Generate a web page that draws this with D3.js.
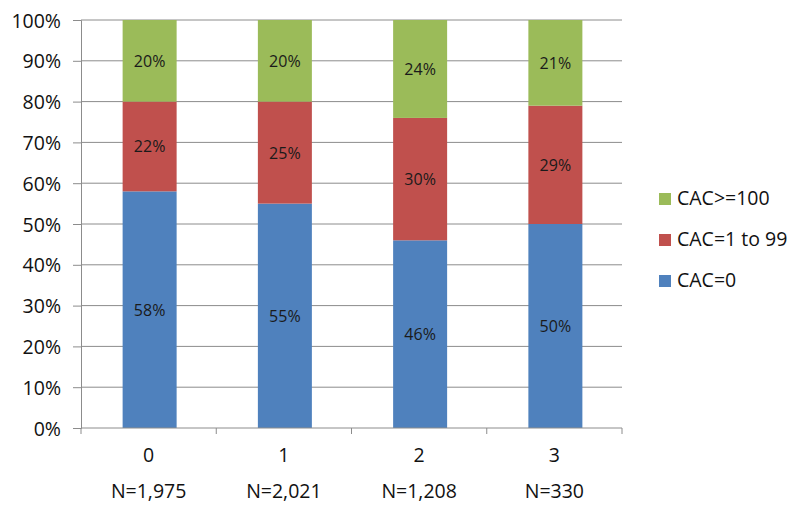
<!DOCTYPE html>
<html><head><meta charset="utf-8">
<script src="https://cdn.jsdelivr.net/npm/d3@7"></script>
<style>body{margin:0;background:#fff}text{font-family:"Open Sans",sans-serif}</style>
</head><body><svg id="c" width="800" height="513"></svg>
<script>
const categories = ["0","1","2","3"];
const nLabels = ["N=1,975","N=2,021","N=1,208","N=330"];
const seriesNames = ["CAC=0","CAC=1 to 99","CAC>=100"];
const cac0 = [58,55,46,50];
const cac1to99 = [22,25,30,29];
const cac100 = [20,20,24,21];
const colors = ["#4F81BD","#C0504D","#9BBB59"];
const yTicks = [0,10,20,30,40,50,60,70,80,90,100];

const svg = d3.select("#c");
const L=81,R=622,T=20,B=428;
const xo = d3.scaleBand().domain(categories).range([L,R]);
const y = d3.scaleLinear().domain([0,100]).range([B,T]);
const FS = 19.5;

// gridlines
svg.append("g").selectAll("line").data(yTicks.filter(d=>d>0)).join("line")
  .attr("x1",L).attr("x2",R).attr("y1",d=>y(d)).attr("y2",d=>y(d))
  .attr("stroke","#8c8c8c").attr("stroke-width",1);

const rows = categories.map((c,i)=>({cat:c, v:[cac0[i],cac1to99[i],cac100[i]]}));
const stack = d3.stack().keys([0,1,2]).value((d,k)=>d.v[k]);
const stacked = stack(rows);
const bw = 54;
stacked.forEach((s,si)=>{
  const g = svg.append("g");
  g.selectAll("rect").data(s).join("rect")
    .attr("x",d=>xo(d.data.cat)+xo.bandwidth()/2-bw/2+1).attr("width",bw)
    .attr("y",d=>y(d[1])).attr("height",d=>y(d[0])-y(d[1]))
    .attr("fill",colors[si]);
  g.selectAll("text").data(s).join("text")
    .attr("x",d=>xo(d.data.cat)+xo.bandwidth()/2+1)
    .attr("y",d=>(y(d[0])+y(d[1]))/2+6)
    .attr("text-anchor","middle").attr("font-size",16).attr("fill","#1a1a1a")
    .text(d=>(d[1]-d[0])+"%");
});

// y axis
const ya = d3.axisLeft(y).tickValues(yTicks).tickSize(8).tickFormat(d=>d+"%");
const yg = svg.append("g").attr("transform",`translate(${L},0)`).call(ya);
yg.select(".domain").attr("stroke","#8c8c8c");
yg.selectAll(".tick line").attr("stroke","#8c8c8c");
yg.selectAll(".tick text").attr("font-size",FS).attr("fill","#111").attr("x",-20).attr("dy","0.36em").attr("font-family","Open Sans");

// x axis
svg.append("line").attr("x1",L).attr("x2",R).attr("y1",B).attr("y2",B).attr("stroke","#8c8c8c");
const edges = categories.map(c=>xo(c)).concat([R]);
svg.append("g").selectAll("line").data(edges).join("line")
  .attr("x1",d=>d).attr("x2",d=>d).attr("y1",B).attr("y2",B+6).attr("stroke","#8c8c8c");
svg.append("g").selectAll("text").data(categories).join("text")
  .attr("x",d=>xo(d)+xo.bandwidth()/2).attr("y",462)
  .attr("text-anchor","middle").attr("font-size",FS).attr("fill","#111").text(d=>d);
svg.append("g").selectAll("text").data(nLabels).join("text")
  .attr("x",(d,i)=>xo(categories[i])+xo.bandwidth()/2).attr("y",498)
  .attr("text-anchor","middle").attr("font-size",FS).attr("fill","#111").text(d=>d);

// legend
const leg = [2,1,0];
const lg = svg.append("g").selectAll("g").data(leg).join("g")
  .attr("transform",(d,i)=>`translate(659,${205+i*41})`);
lg.append("rect").attr("x",0).attr("y",-12).attr("width",12).attr("height",12).attr("fill",d=>colors[d]);
lg.append("text").attr("x",18).attr("y",0).attr("font-size",FS).attr("fill","#111").text(d=>seriesNames[d]);
</script></body></html>
